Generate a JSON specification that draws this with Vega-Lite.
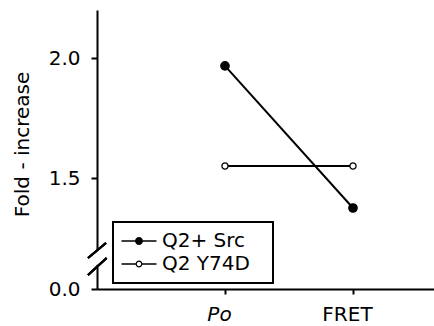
{
  "$schema": "https://vega.github.io/schema/vega-lite/v6.json",
  "width": 337,
  "height": 279,
  "autosize": {"type": "none"},
  "padding": {"left": 97, "top": 10, "right": 0, "bottom": 37},
  "background": "white",
  "config": {
    "view": {"stroke": null},
    "font": "DejaVu Sans",
    "axis": {
      "domainColor": "black",
      "domainWidth": 2,
      "tickColor": "black",
      "tickWidth": 2,
      "labelColor": "black",
      "labelFont": "DejaVu Sans",
      "labelFontSize": 20,
      "titleFont": "DejaVu Sans",
      "titleFontSize": 20,
      "titleFontWeight": "normal",
      "titleColor": "black",
      "grid": false,
      "labelOverlap": false,
      "labelFlush": false
    },
    "legend": {
      "strokeColor": "black",
      "strokeWidth": 2,
      "padding": 9,
      "labelFont": "DejaVu Sans",
      "labelFontSize": 20,
      "labelColor": "black",
      "symbolSize": 306,
      "symbolStrokeWidth": 0,
      "labelOffset": 13,
      "symbolOffset": 7,
      "rowPadding": 3
    }
  },
  "data": {
    "values": [
      {"series": "Q2+ Src", "condition": "Po", "idx": 1, "fold": 1.967},
      {"series": "Q2+ Src", "condition": "FRET", "idx": 2, "fold": 1.375},
      {"series": "Q2 Y74D", "condition": "Po", "idx": 1, "fold": 1.55},
      {"series": "Q2 Y74D", "condition": "FRET", "idx": 2, "fold": 1.55}
    ]
  },
  "encoding": {
    "x": {
      "field": "idx",
      "type": "quantitative",
      "scale": {"domain": [0, 2.633], "nice": false, "zero": false},
      "axis": {
        "title": null,
        "values": [1, 2],
        "labelExpr": "datum.value == 1 ? 'Po' : 'FRET'",
        "labelFontStyle": {"condition": {"test": "datum.value == 1", "value": "italic"}, "value": "normal"},
        "tickSize": 5,
        "labelPadding": 10,
        "labelOffset": -6
      }
    },
    "y": {
      "field": "fold",
      "type": "quantitative",
      "scale": {"domain": [1.0375, 2.2], "nice": false, "zero": false},
      "axis": {
        "title": "Fold - increase",
        "values": [1.0375, 1.5, 2.0],
        "labelExpr": "datum.value < 1.1 ? '0.0' : format(datum.value, '.1f')",
        "tickSize": 6,
        "labelPadding": 11,
        "titleX": -69,
        "titleY": 134,
        "titleBaseline": "alphabetic",
        "titleAngle": -90
      }
    }
  },
  "layer": [
    {
      "mark": {"type": "line", "color": "black", "strokeWidth": 2},
      "encoding": {"detail": {"field": "series"}}
    },
    {
      "transform": [{"filter": "datum.series == 'Q2+ Src'"}],
      "mark": {"type": "point", "filled": true, "fill": "black", "stroke": "black", "strokeWidth": 1.3, "size": 70, "opacity": 1}
    },
    {
      "transform": [{"filter": "datum.series == 'Q2 Y74D'"}],
      "mark": {"type": "point", "filled": true, "fill": "white", "stroke": "black", "strokeWidth": 1.3, "size": 38, "opacity": 1}
    },
    {
      "transform": [{"filter": "false"}],
      "mark": {"type": "point", "filled": true, "color": "black", "strokeWidth": 0, "opacity": 1},
      "encoding": {
        "shape": {
          "field": "series",
          "type": "nominal",
          "scale": {
            "domain": ["Q2+ Src", "Q2 Y74D"],
            "range": [
              "M-2,-0.086H-0.449V0.086H-2Z M0.449,-0.086H2V0.086H0.449Z M-0.457,0A0.457,0.457,0,1,1,0.457,0A0.457,0.457,0,1,1,-0.457,0Z",
              "M-2,-0.086H-0.38V0.086H-2Z M0.38,-0.086H2V0.086H0.38Z M-0.39,0A0.39,0.39,0,1,1,0.39,0A0.39,0.39,0,1,1,-0.39,0Z M-0.25,0A0.25,0.25,0,1,0,0.25,0A0.25,0.25,0,1,0,-0.25,0Z"
            ]
          },
          "legend": {
            "title": "\u00a0",
            "titleOrient": "right",
            "titleFontSize": 20,
            "titlePadding": 14,
            "orient": "none",
            "legendX": 16,
            "legendY": 212
          }
        }
      }
    },
    {
      "mark": {"type": "rule", "color": "white", "strokeWidth": 5},
      "encoding": {
        "x": {"datum": 0, "type": "quantitative"},
        "y": {"datum": 1.14, "type": "quantitative"},
        "y2": {"datum": 1.198}
      }
    },
    {
      "mark": {"type": "rule", "color": "black", "strokeWidth": 2},
      "encoding": {
        "x": {"datum": -0.07, "type": "quantitative"},
        "x2": {"datum": 0.07},
        "y": {"datum": 1.1667, "type": "quantitative"},
        "y2": {"datum": 1.2292}
      }
    },
    {
      "mark": {"type": "rule", "color": "black", "strokeWidth": 2},
      "encoding": {
        "x": {"datum": -0.07, "type": "quantitative"},
        "x2": {"datum": 0.075},
        "y": {"datum": 1.0958, "type": "quantitative"},
        "y2": {"datum": 1.1667}
      }
    }
  ]
}
